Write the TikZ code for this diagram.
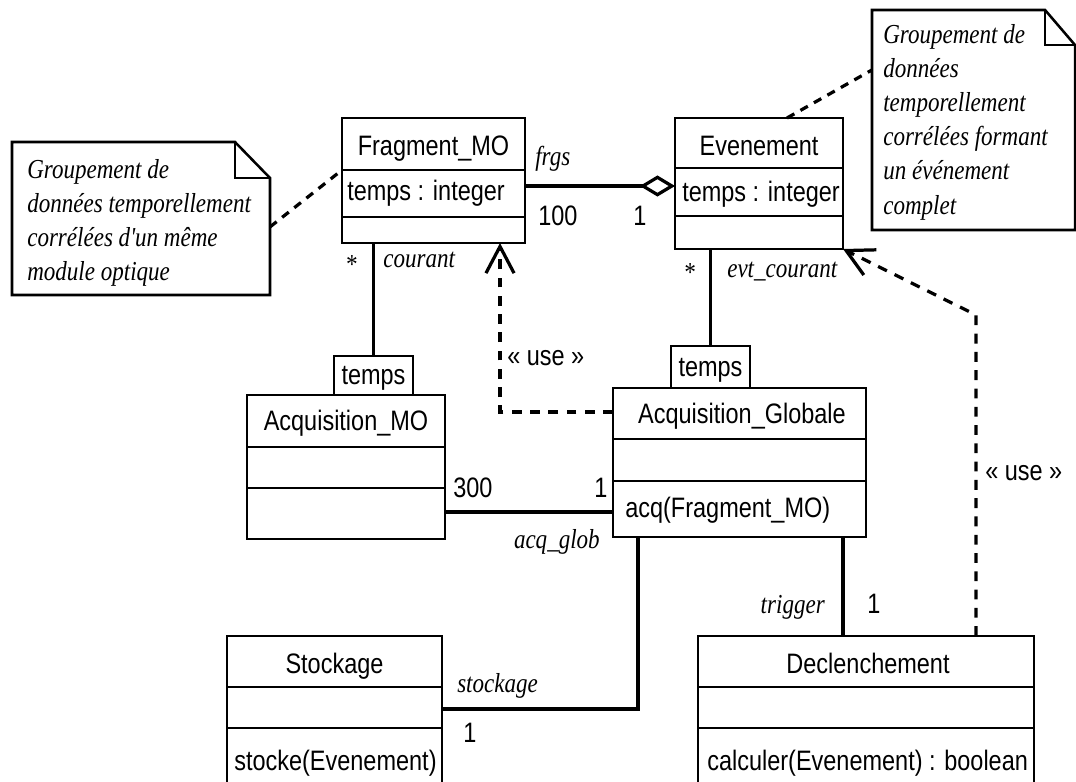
\documentclass[tikz,border=0pt]{standalone}
\usepackage{fontspec}
\setmainfont{Liberation Sans}
\newfontfamily\clsfont{Liberation Sans}[FakeStretch=0.835]
\newfontfamily\lblfont{Liberation Serif}[FakeStretch=0.84]
\usetikzlibrary{arrows.meta,fit}
\begin{document}
\begin{tikzpicture}[x=0.025cm,y=-0.025cm,
  classbox/.style={draw, line width=1.8pt, inner sep=0pt, outer sep=0pt},
  divline/.style={line width=1.8pt},
  cls/.style={font={\clsfont\fontsize{20}{24}\selectfont}, inner sep=0pt},
  lbl/.style={font={\lblfont\itshape\fontsize{19.5}{24}\selectfont}, inner sep=0pt},
  notetext/.style={font={\lblfont\itshape\fontsize{19.5}{24.3}\selectfont}, inner sep=0pt, align=left, anchor=north west},
  noteframe/.style={inner sep=0pt, outer sep=0pt},
  noteline/.style={line width=1.8pt, line join=miter},
  assoc/.style={line width=2.3pt},
  dep/.style={line width=2.3pt, dash pattern=on 7pt off 6pt, -{Straight Barb[length=19pt,width=20pt,line width=2.3pt]}},
  notelink/.style={line width=2.3pt, dash pattern=on 6pt off 5pt}]

\useasboundingbox (0,0) rectangle (1076,781);
\fill[white] (0,0) rectangle (1076,781);
\clip (0,0) rectangle (1076,781);

% ---------------- classes ----------------
% Fragment_MO
\node[classbox, fit={(342,118) (525,243)}] (frag) {};
\draw[divline] (frag.west |- 0,170) -- (frag.east |- 0,170);
\draw[divline] (frag.west |- 0,217) -- (frag.east |- 0,217);
\node[cls, anchor=base] (fragN) at (433.5,155) {Fragment\_MO};
\node[cls, anchor=base west] (fragA) at (347,200) {temps : integer};

% Evenement
\node[classbox, fit={(675,118) (843,249)}] (even) {};
\draw[divline] (even.west |- 0,168) -- (even.east |- 0,168);
\draw[divline] (even.west |- 0,216) -- (even.east |- 0,216);
\node[cls, anchor=base] (evenN) at (759,155) {Evenement};
\node[cls, anchor=base west] (evenA) at (682,201) {temps : integer};

% Acquisition_MO with qualifier
\node[classbox, fit={(247,395) (445,539)}] (amo) {};
\draw[divline] (amo.west |- 0,447) -- (amo.east |- 0,447);
\draw[divline] (amo.west |- 0,488) -- (amo.east |- 0,488);
\node[cls, anchor=base] (amoN) at (346,430) {Acquisition\_MO};
\node[classbox, fit={(334,356) (413,395)}] (qmo) {};
\node[cls, anchor=base] (qmoT) at (373.5,384) {temps};

% Acquisition_Globale with qualifier
\node[classbox, fit={(613,388) (866,537)}] (ag) {};
\draw[divline] (ag.west |- 0,439) -- (ag.east |- 0,439);
\draw[divline] (ag.west |- 0,481) -- (ag.east |- 0,481);
\node[cls, anchor=base] (agN) at (742,423) {Acquisition\_Globale};
\node[cls, anchor=base west] (agM) at (625,517) {acq(Fragment\_MO)};
\node[classbox, fit={(671,346) (750,388)}] (qag) {};
\node[cls, anchor=base] (qagT) at (710.5,376) {temps};

% Stockage
\node[classbox, fit={(227,636) (442,810)}] (stock) {};
\draw[divline] (stock.west |- 0,687) -- (stock.east |- 0,687);
\draw[divline] (stock.west |- 0,728) -- (stock.east |- 0,728);
\node[cls, anchor=base] (stockN) at (334.5,673) {Stockage};
\node[cls, anchor=base west] (stockM) at (234,770) {stocke(Evenement)};

% Declenchement
\node[classbox, fit={(698,636) (1034,810)}] (decl) {};
\draw[divline] (decl.west |- 0,687) -- (decl.east |- 0,687);
\draw[divline] (decl.west |- 0,728) -- (decl.east |- 0,728);
\node[cls, anchor=base] (declN) at (868,673) {Declenchement};
\node[cls, anchor=base west] (declM) at (707,770) {calculer(Evenement) : boolean};

% ---------------- notes ----------------
\node[noteframe, fit={(12,142) (270,295)}] (note1) {};
\draw[noteline] (note1.south west) -- (note1.north west) -- ([xshift=-24.9pt]note1.north east)
  -- ([yshift=-25.6pt]note1.north east) -- (note1.south east) -- cycle;
\draw[noteline] ([xshift=-24.9pt]note1.north east) -- ([xshift=-24.9pt,yshift=-25.6pt]note1.north east)
  -- ([yshift=-25.6pt]note1.north east);
\node[notetext] (note1T) at (27,159) {Groupement de\\données temporellement\\corrélées d'un même\\module optique};

\node[noteframe, fit={(872,10) (1075,230)}] (note2) {};
\draw[noteline] (note2.south west) -- (note2.north west) -- ([xshift=-21.3pt]note2.north east)
  -- ([yshift=-24.9pt]note2.north east) -- (note2.south east) -- cycle;
\draw[noteline] ([xshift=-21.3pt]note2.north east) -- ([xshift=-21.3pt,yshift=-24.9pt]note2.north east)
  -- ([yshift=-24.9pt]note2.north east);
\node[notetext] (note2T) at (883,24) {Groupement de\\données\\temporellement\\corrélées formant\\un événement\\complet};

% ---------------- connectors ----------------
\coordinate (aggY) at (0,186);
\draw[assoc, -{Diamond[open, length=25pt, width=15pt, line width=2.3pt]}] (frag.east |- aggY) -- (even.west |- aggY);

\draw[assoc] (qmo.north) -- (qmo.north |- frag.south);
\draw[assoc] (qag.north) -- (qag.north |- even.south);

\coordinate (amoY) at (0,512);
\draw[assoc] (amo.east |- amoY) -- (ag.west |- amoY);

\coordinate (trigX) at (843,0);
\draw[assoc] (ag.south -| trigX) -- (decl.north -| trigX);

\coordinate (stkJ) at (638,709);
\draw[assoc] (ag.south -| stkJ) -- (stkJ) -- (stock.east |- stkJ);

\coordinate (u1) at (500,412);
\draw[dep] (ag.west |- u1) -- (u1) -- (u1 |- frag.south);

\coordinate (u2) at (976,315);
\draw[dep] (decl.north -| u2) -- (u2) -- (even.south east);

\draw[notelink] ([yshift=-6pt]note1.east) -- ([yshift=-37pt]frag.north west);
\draw[notelink] ([xshift=19.9pt]even.north) -- ([yshift=35.6pt]note2.west);

% ---------------- labels ----------------
\node[lbl, anchor=base west] (lfrgs) at (535,165) {frgs};
\node[cls, anchor=base west] (l100) at (538,225) {100};
\node[cls, anchor=base] (l1a) at (640,225) {1};
\node[lbl, anchor=base west] (lcour) at (383,267) {courant};
\node[lbl] (lst1) at (351,265) {*};
\node[lbl, anchor=base west] (levt) at (727,277) {evt\_courant};
\node[lbl] (lst2) at (689,273) {*};
\node[cls, anchor=base west] (luse1) at (507,365) {« use »};
\node[cls, anchor=base west] (l300) at (453,497) {300};
\node[cls, anchor=base] (l1b) at (601,497) {1};
\node[lbl, anchor=base east] (lacq) at (600,548) {acq\_glob};
\node[lbl, anchor=base west] (lstk) at (457,692) {stockage};
\node[cls, anchor=base west] (l1c) at (463,742) {1};
\node[lbl, anchor=base east] (ltrig) at (825,613) {trigger};
\node[cls, anchor=base] (l1d) at (874,613) {1};
\node[cls, anchor=base west] (luse2) at (985,480) {« use »};

\end{tikzpicture}
\end{document}
